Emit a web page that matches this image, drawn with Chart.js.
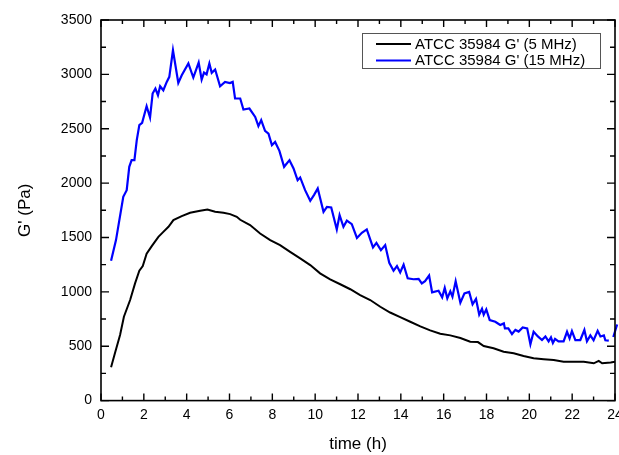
<!DOCTYPE html>
<html>
<head>
<meta charset="utf-8">
<script src="https://cdn.jsdelivr.net/npm/chart.js@4/dist/chart.umd.min.js"></script>
<style>
  html, body { margin: 0; padding: 0; background: #fff; overflow: hidden; }
  canvas { display: block; }
</style>
</head>
<body>
<canvas id="chart" width="640" height="455"></canvas>
<script>
// G' of ATCC 35984 over time
const time5 = [0.47, 0.65, 0.89, 1.07, 1.36, 1.59, 1.79, 1.95, 2.13, 2.37, 2.68, 2.91, 3.15, 3.38, 3.77, 4.16,
  4.63, 4.97, 5.33, 5.72, 6.03, 6.34, 6.50, 6.96, 7.43, 7.90, 8.36, 8.83, 9.30, 9.77, 10.23, 10.70, 11.17,
  11.64, 12.10, 12.57, 13.04, 13.50, 13.97, 14.44, 14.91, 15.37, 15.84, 16.31, 16.78, 17.24, 17.60, 17.87,
  18.33, 18.80, 19.27, 19.73, 20.20, 20.67, 21.14, 21.60, 22.07, 22.54, 23.01, 23.24, 23.40, 23.80, 24.00];
const g5 = [306, 435, 603, 771, 925, 1078, 1194, 1237, 1350, 1421, 1506, 1552, 1598, 1660, 1696, 1727,
  1745, 1758, 1736, 1727, 1715, 1690, 1663, 1614, 1537, 1476, 1430, 1368, 1308, 1246, 1170, 1115, 1070,
  1024, 970, 925, 863, 810, 767, 725, 683, 646, 615, 600, 575, 541, 538, 502,
  481, 449, 435, 410, 389, 380, 373, 358, 358, 358, 343, 365, 343, 350, 358];

const time15 = [0.47, 0.70, 1.04, 1.20, 1.32, 1.43, 1.56, 1.67, 1.79, 1.92, 2.13, 2.29, 2.41, 2.54, 2.66, 2.76,
  2.91, 3.07, 3.19, 3.36, 3.61, 3.77, 4.08, 4.31, 4.56, 4.70, 4.81, 4.93, 5.06, 5.17, 5.33, 5.56, 5.79,
  6.02, 6.15, 6.26, 6.50, 6.65, 6.93, 7.20, 7.35, 7.48, 7.66, 7.82, 7.98, 8.13, 8.33, 8.55, 8.80, 8.99,
  9.18, 9.30, 9.53, 9.77, 9.95, 10.12, 10.39, 10.55, 10.75, 11.01, 11.14, 11.32, 11.48, 11.71, 11.95,
  12.18, 12.41, 12.70, 12.86, 13.07, 13.27, 13.46, 13.66, 13.82, 13.97, 14.13, 14.32, 14.59, 14.83,
  14.98, 15.13, 15.32, 15.46, 15.76, 15.93, 16.05, 16.17, 16.31, 16.41, 16.56, 16.78, 16.97, 17.19,
  17.35, 17.51, 17.66, 17.79, 17.87, 17.99, 18.15, 18.41, 18.64, 18.81, 18.86, 19.02, 19.19, 19.35,
  19.50, 19.69, 19.90, 20.05, 20.20, 20.40, 20.59, 20.75, 20.90, 21.01, 21.10, 21.20, 21.36, 21.60,
  21.76, 21.88, 21.99, 22.15, 22.38, 22.57, 22.69, 22.85, 23.00, 23.19, 23.32, 23.48, 23.55, 23.71,
  23.85, 23.92, 24.10];
const g15 = [1286, 1476, 1874, 1935, 2150, 2211, 2211, 2395, 2533, 2554, 2707, 2603, 2824, 2870, 2808, 2891,
  2854, 2931, 2977, 3222, 2922, 2992, 3100, 2971, 3109, 2953, 3017, 3000, 3100, 3014, 3045, 2891, 2931,
  2920, 2931, 2778, 2778, 2677, 2686, 2609, 2524, 2579, 2480, 2455, 2349, 2379, 2297, 2150, 2211, 2135,
  2027, 2052, 1935, 1837, 1892, 1951, 1736, 1782, 1776, 1574, 1706, 1598, 1655, 1623, 1496,
  1543, 1574, 1409, 1450, 1384, 1430, 1267, 1194, 1237, 1178, 1250, 1124, 1116, 1120,
  1078, 1098, 1150, 996, 1010, 950, 1036, 940, 1004, 955, 1098, 900, 986, 1000,
  886, 935, 792, 845, 790, 839, 741, 725, 695, 710, 664, 664, 612, 650,
  635, 673, 664, 517, 633, 590, 557, 590, 545, 582, 530, 567, 545, 545,
  633, 572, 640, 557, 557, 649, 545, 600, 555, 642, 590, 600, 555, 551,
  null, 585, 700];

const seriesLabels = ["ATCC 35984 G' (5 MHz)", "ATCC 35984 G' (15 MHz)"];
const seriesColors = ['#000000', '#0000ff'];
const xTitle = 'time (h)';
const yTitle = "G' (Pa)";

const fontFamily = 'Arial, "Liberation Sans", Helvetica, sans-serif';

const toPoints = (xs, ys) => xs.map((x, i) => ({ x, y: ys[i] }));

// frame with inward ticks on all four sides, axis titles and the boxed legend
const framePlugin = {
  id: 'frame',
  afterDraw(chart) {
    const { ctx, chartArea: a, scales: { x, y } } = chart;
    ctx.save();
    ctx.strokeStyle = '#000';
    ctx.lineWidth = 1.6;
    ctx.strokeRect(a.left, a.top, a.right - a.left, a.bottom - a.top);

    ctx.lineWidth = 1.4;
    ctx.beginPath();
    for (let v = 0; v <= 24; v += 1) {
      const px = x.getPixelForValue(v);
      const len = v % 2 === 0 ? 7 : 4;
      ctx.moveTo(px, a.bottom); ctx.lineTo(px, a.bottom - len);
      ctx.moveTo(px, a.top); ctx.lineTo(px, a.top + len);
    }
    for (let v = 0; v <= 3500; v += 250) {
      const py = y.getPixelForValue(v);
      const len = v % 500 === 0 ? 8 : 5;
      ctx.moveTo(a.left, py); ctx.lineTo(a.left + len, py);
      ctx.moveTo(a.right, py); ctx.lineTo(a.right - len, py);
    }
    ctx.stroke();

    ctx.fillStyle = '#000';
    ctx.font = '17px ' + fontFamily;
    ctx.textAlign = 'center';
    ctx.textBaseline = 'middle';
    ctx.fillText(xTitle, (a.left + a.right) / 2, 444);
    ctx.save();
    ctx.translate(25, (a.top + a.bottom) / 2);
    ctx.rotate(-Math.PI / 2);
    ctx.fillText(yTitle, 0, 0);
    ctx.restore();

    // legend
    ctx.lineWidth = 1;
    ctx.strokeStyle = '#555';
    ctx.strokeRect(362.5, 33.5, 238, 35);
    ctx.font = '15px ' + fontFamily;
    ctx.textAlign = 'left';
    seriesLabels.forEach((label, i) => {
      const ly = 44 + i * 16.5;
      ctx.strokeStyle = seriesColors[i];
      ctx.lineWidth = 2;
      ctx.beginPath();
      ctx.moveTo(376, ly); ctx.lineTo(411, ly);
      ctx.stroke();
      ctx.fillStyle = '#000';
      ctx.fillText(label, 415, ly + 0.5);
    });
    ctx.restore();
  }
};

new Chart(document.getElementById('chart'), {
  type: 'line',
  data: {
    datasets: [
      {
        label: seriesLabels[0],
        data: toPoints(time5, g5),
        borderColor: seriesColors[0],
        borderWidth: 2,
        pointRadius: 0,
        tension: 0,
      },
      {
        label: seriesLabels[1],
        data: toPoints(time15, g15),
        borderColor: seriesColors[1],
        borderWidth: 2.2,
        pointRadius: 0,
        tension: 0,
        spanGaps: false,
        clip: { left: 0, top: 0, right: 4, bottom: 0 },
      },
    ],
  },
  options: {
    responsive: false,
    animation: false,
    devicePixelRatio: 1,
    layout: { padding: { top: 20, right: 25, bottom: 0, left: 0 } },
    plugins: {
      legend: { display: false },
      tooltip: { enabled: false },
    },
    scales: {
      x: {
        type: 'linear',
        min: 0,
        max: 24,
        border: { display: false },
        grid: { display: false, drawTicks: false },
        ticks: {
          stepSize: 2,
          padding: 6,
          color: '#000',
          maxRotation: 0,
          font: { size: 14, family: fontFamily },
          callback: (v) => String(v),
        },
        afterFit(scale) { scale.height = 54.4; },
      },
      y: {
        min: 0,
        max: 3500,
        border: { display: false },
        grid: { display: false, drawTicks: false },
        ticks: {
          stepSize: 500,
          padding: 9,
          color: '#000',
          font: { size: 14, family: fontFamily },
          callback: (v) => String(v),
        },
        afterFit(scale) { scale.width = 101; },
      },
    },
  },
  plugins: [framePlugin],
});
</script>
</body>
</html>
